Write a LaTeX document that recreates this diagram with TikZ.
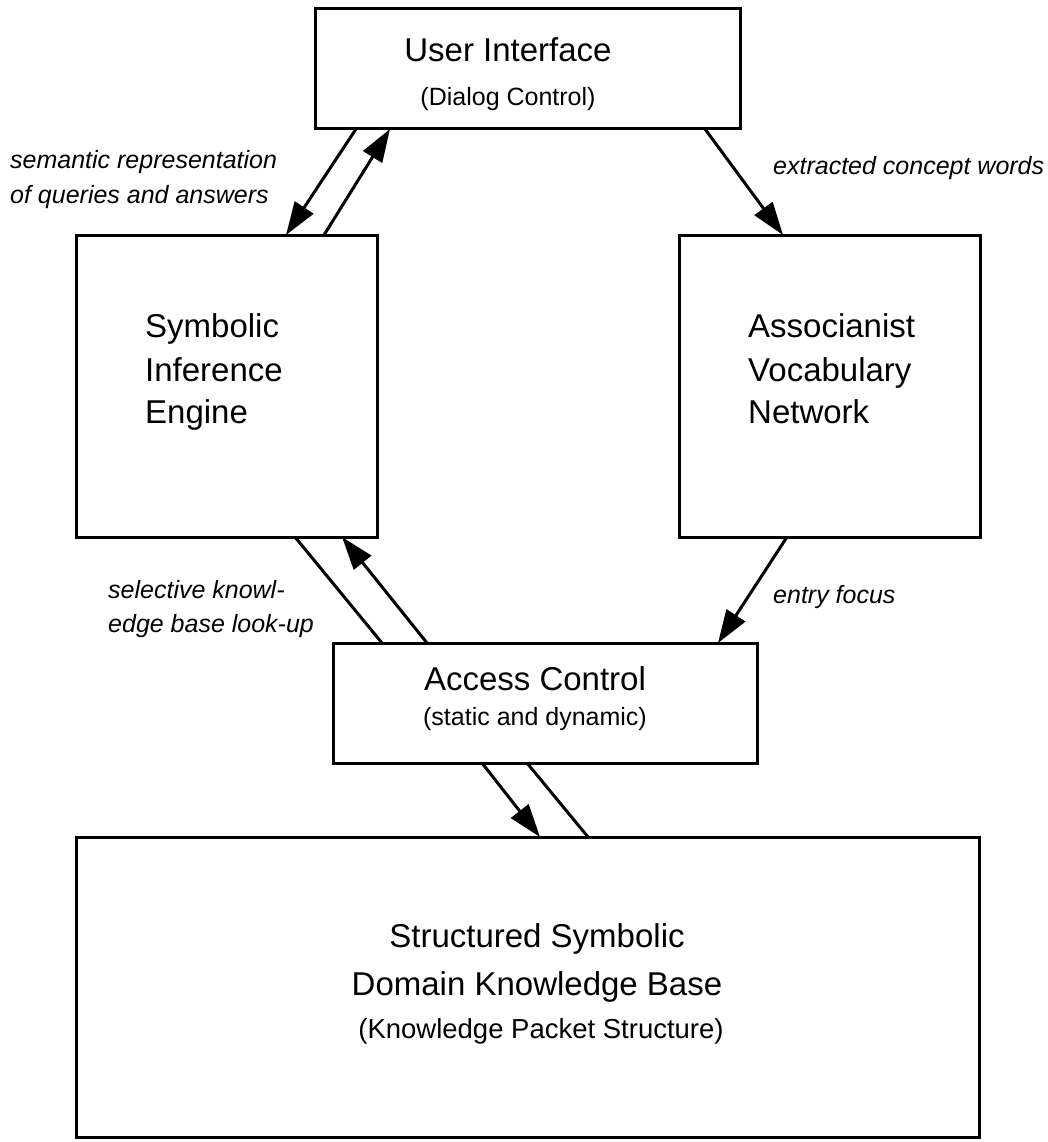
\documentclass[tikz,border=0pt]{standalone}
\usepackage{fontspec}
\setmainfont{Liberation Sans}
\usetikzlibrary{arrows.meta}
\begin{document}
\begin{tikzpicture}[x=1pt,y=-1pt,
  box/.style={draw,line width=3pt,inner sep=0pt,outer sep=0pt},
  arr/.style={line width=3pt,-{Triangle[length=33pt,width=22pt]}},
  pline/.style={line width=3pt},
  big/.style={font=\fontsize{33}{40}\selectfont,inner sep=0pt},
  sub/.style={font=\fontsize{25}{30}\selectfont,inner sep=0pt},
  lab/.style={font=\fontsize{25}{30}\selectfont\itshape,inner sep=0pt,anchor=base west}
]
\useasboundingbox (0,0) rectangle (1047,1142);

% boxes
\node[box,minimum width=425pt,minimum height=120pt] (ui) at (527.5,69) {};
\node[box,minimum width=301pt,minimum height=302pt] (sym) at (226.5,386) {};
\node[box,minimum width=301pt,minimum height=302pt] (assoc) at (829.5,386) {};
\node[box,minimum width=424pt,minimum height=120pt] (acc) at (545,703) {};
\node[box,minimum width=903pt,minimum height=300pt] (kb) at (527.5,987) {};

% box texts
\node[big,anchor=base] (uit) at (508,62) {User Interface};
\node[sub,anchor=base] (uis) at (508,106) {(Dialog Control)};

\node[big,anchor=base west] (sym1) at (145,337) {Symbolic};
\node[big,anchor=base west] (sym2) at (145,381) {Inference};
\node[big,anchor=base west] (sym3) at (145,423) {Engine};

\node[big,anchor=base west] (as1) at (748,337) {Associanist};
\node[big,anchor=base west] (as2) at (748,381) {Vocabulary};
\node[big,anchor=base west] (as3) at (748,423) {Network};

\node[big,anchor=base] (acct) at (535,690) {Access Control};
\node[sub,anchor=base] (accs) at (535,725) {(static and dynamic)};

\node[big,anchor=base] (kb1) at (537,947) {Structured Symbolic};
\node[big,anchor=base] (kb2) at (537,995) {Domain Knowledge Base};
\node[font=\fontsize{27.5}{32}\selectfont,inner sep=0pt,anchor=base] (kb3) at (541,1038) {(Knowledge Packet Structure)};

% connector labels
\node[lab] (l1a) at (10,168) {semantic representation};
\node[lab] (l1b) at (10,203) {of queries and answers};
\node[lab] (l2) at (773,175) {extracted concept words};
\node[lab] (l3a) at (108,598) {selective knowl-};
\node[lab] (l3b) at (108,632) {edge base look-up};
\node[lab] (l4) at (773,603) {entry focus};

% connectors
\draw[arr] ([xshift=41pt]ui.south west) -- ([xshift=210pt]sym.north west);
\draw[arr] ([xshift=248pt]sym.north west) -- ([xshift=75pt]ui.south west);
\draw[arr] ([xshift=-35pt]ui.south east) -- ([xshift=104pt]assoc.north west);
\draw[pline] ([xshift=219pt]sym.south west) -- ([xshift=49pt]acc.north west);
\draw[arr] ([xshift=94pt]acc.north west) -- ([xshift=266pt]sym.south west);
\draw[arr] ([xshift=108pt]assoc.south west) -- ([xshift=-39pt]acc.north east);
\draw[arr] ([xshift=149pt]acc.south west) -- ([xshift=464pt]kb.north west);
\draw[pline] ([xshift=194pt]acc.south west) -- ([xshift=512pt]kb.north west);
\end{tikzpicture}
\end{document}
